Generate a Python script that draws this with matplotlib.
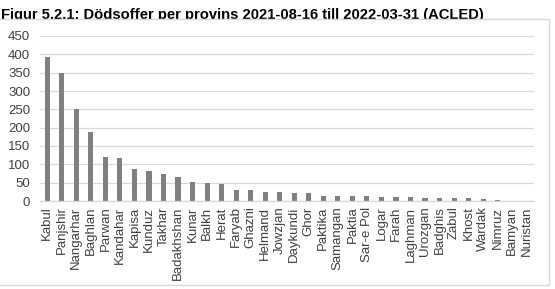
import matplotlib.pyplot as plt
from matplotlib.patches import Rectangle

provinces = ['Kabul', 'Panjshir', 'Nangarhar', 'Baghlan', 'Parwan', 'Kandahar',
             'Kapisa', 'Kunduz', 'Takhar', 'Badakhshan', 'Kunar', 'Balkh', 'Herat',
             'Faryab', 'Ghazni', 'Helmand', 'Jowzjan', 'Daykundi', 'Ghor', 'Paktika',
             'Samangan', 'Paktia', 'Sar-e Pol', 'Logar', 'Farah', 'Laghman',
             'Urozgan', 'Badghis', 'Zabul', 'Khost', 'Wardak', 'Nimruz', 'Bamyan',
             'Nuristan']
deaths = [392, 349, 252, 189, 120, 118, 88, 82, 73, 65, 53, 49, 47, 31, 31, 25,
          24, 22, 21, 15, 15, 15, 14, 11, 11, 11, 8, 8, 7, 7, 5, 3, 1, 1]
yticks = [0, 50, 100, 150, 200, 250, 300, 350, 400, 450]

title = 'Figur 5.2.1: Dödsoffer per provins 2021-08-16 till 2022-03-31 (ACLED)'

plt.rcParams['font.family'] = ['Liberation Sans', 'DejaVu Sans']

fig = plt.figure(figsize=(5.55, 2.89), dpi=100)

# title sits behind the chart box, so its descenders get covered
fig.text(0.002, 1 - 18.5 / 289, title, fontsize=10.6, fontweight='bold',
         va='baseline', ha='left', color='black', zorder=0)
box = Rectangle((-0.01, 1 - 285 / 289), 549 / 555 + 0.01, (285 - 19) / 289,
                transform=fig.transFigure, facecolor='white',
                edgecolor='#d9d9d9', linewidth=1, zorder=0.5)
fig.patches.append(box)

ax = fig.add_axes([40 / 555, 1 - 201 / 289, 494 / 555, 165 / 289], zorder=1)
ax.patch.set_alpha(0)

x = range(len(provinces))
ax.bar(x, deaths, width=0.35, color='#808080', zorder=2)

ax.set_xlim(-0.5, len(provinces) - 0.5)
ax.set_ylim(0, 450)
ax.set_yticks(yticks)
ax.set_xticks(list(x))
ax.set_xticklabels(provinces, rotation=90)
ax.yaxis.grid(True, color='#d9d9d9', linewidth=0.9)
ax.set_axisbelow(True)

for s in ['top', 'right', 'left']:
    ax.spines[s].set_visible(False)
ax.spines['bottom'].set_color('#d9d9d9')
ax.spines['bottom'].set_linewidth(0.9)

ax.tick_params(axis='both', length=0, labelsize=9.5, labelcolor='#404040')
ax.tick_params(axis='y', pad=7)
ax.tick_params(axis='x', pad=4)

fig.savefig('out.png', dpi=100)
